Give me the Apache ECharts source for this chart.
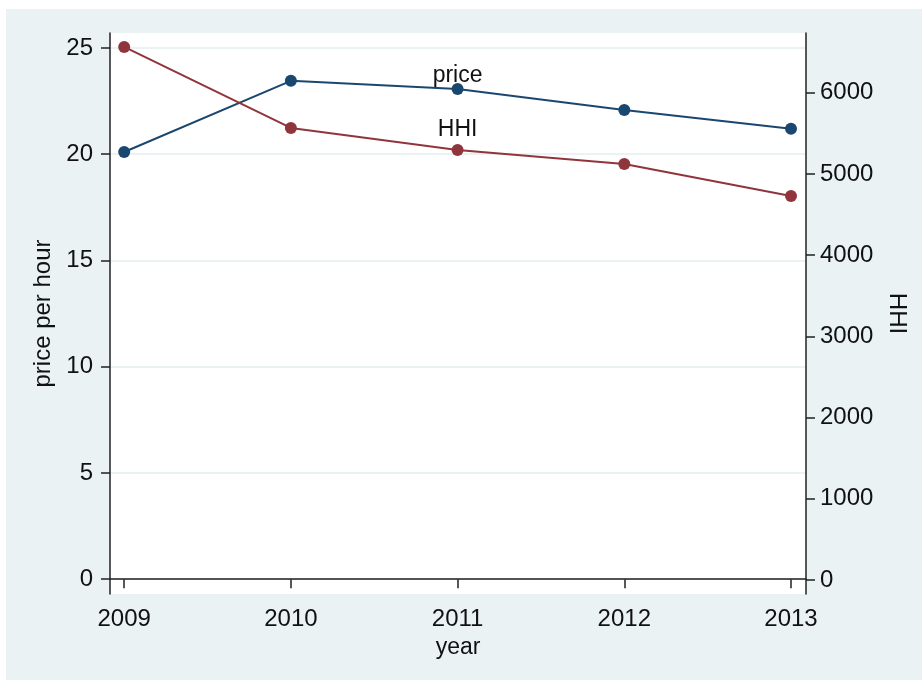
<!DOCTYPE html>
<html>
<head>
<meta charset="utf-8">
<script src="https://cdn.jsdelivr.net/npm/echarts@6/dist/echarts.min.js"></script>
<style>
  html, body { margin: 0; padding: 0; background: #ffffff; }
  #main { width: 922px; height: 680px; }
</style>
</head>
<body>
<div id="main"></div>
<script>
// data
var years = [2009, 2010, 2011, 2012, 2013];
var price = [20.1, 23.45, 23.07, 22.08, 21.19];   // left axis, price per hour
var hhi = [6564, 5567, 5296, 5123, 4729];         // right axis, HHI
var leftTicks = [0, 5, 10, 15, 20, 25];
var rightTicks = [0, 1000, 2000, 3000, 4000, 5000, 6000];

function pairs(xs, ys) {
    return xs.map(function (x, i) { return [x, ys[i]]; });
}
function plain(v) { return String(v); }

var txt = '#111111';
var axisCol = '#222222';
var font = 'Liberation Sans, Arial, sans-serif';

var option = {
    animation: false,
    textStyle: { fontFamily: font },
    graphic: [{
        type: 'rect',
        z: -10,
        shape: { x: 6, y: 9, width: 916, height: 671 },
        style: { fill: '#EAF2F3' }
    }],
    grid: {
        left: 110,
        right: 116,
        top: 33,
        bottom: 86,
        show: true,
        backgroundColor: '#ffffff',
        borderWidth: 0
    },
    xAxis: {
        type: 'value',
        min: 2008.915,
        max: 2013.09,
        name: 'year',
        nameLocation: 'middle',
        nameGap: 40,
        nameTextStyle: { fontSize: 23, color: txt },
        axisLine: { show: true, lineStyle: { color: axisCol, width: 1.5 } },
        axisTick: { show: true, length: 9, lineStyle: { color: axisCol, width: 1.5 }, customValues: years },
        axisLabel: { fontSize: 24, color: txt, margin: 13, customValues: years, formatter: plain },
        splitLine: { show: false }
    },
    yAxis: [
        {
            type: 'value',
            position: 'left',
            min: -0.7,
            max: 25.7,
            name: 'price per hour',
            nameLocation: 'middle',
            nameRotate: 90,
            nameGap: 52,
            nameTextStyle: { fontSize: 24, color: txt },
            axisLine: { show: true, lineStyle: { color: axisCol, width: 1.5 } },
            axisTick: { show: true, length: 9, lineStyle: { color: axisCol, width: 1.5 }, customValues: leftTicks },
            axisLabel: { fontSize: 24, color: txt, margin: 17, customValues: leftTicks, formatter: plain },
            splitLine: { show: true, lineStyle: { color: '#EAF2F3', width: 2 } }
        },
        {
            type: 'value',
            position: 'right',
            min: -172,
            max: 6736,
            name: 'HHI',
            nameLocation: 'middle',
            nameRotate: -90,
            nameGap: 79,
            nameTextStyle: { fontSize: 24, color: txt },
            axisLine: { show: true, lineStyle: { color: axisCol, width: 1.5 } },
            axisTick: { show: true, length: 9, lineStyle: { color: axisCol, width: 1.5 }, customValues: rightTicks },
            axisLabel: { fontSize: 24, color: txt, margin: 14, customValues: rightTicks, formatter: plain },
            splitLine: { show: false }
        }
    ],
    series: [
        {
            name: 'price',
            type: 'line',
            yAxisIndex: 0,
            data: pairs(years, price).map(function (p, i) {
                if (years[i] !== 2011) return p;
                return {
                    value: p,
                    label: { show: true, position: 'top', distance: -4, formatter: 'price', fontSize: 23, color: txt }
                };
            }),
            symbol: 'circle',
            symbolSize: 12,
            lineStyle: { color: '#1a476f', width: 2 },
            itemStyle: { color: '#1a476f' },
            z: 3
        },
        {
            name: 'HHI',
            type: 'line',
            yAxisIndex: 1,
            data: pairs(years, hhi).map(function (p, i) {
                if (years[i] !== 2011) return p;
                return {
                    value: p,
                    label: { show: true, position: 'top', distance: 3, formatter: 'HHI', fontSize: 23, color: txt }
                };
            }),
            symbol: 'circle',
            symbolSize: 12,
            lineStyle: { color: '#90353b', width: 2 },
            itemStyle: { color: '#90353b' },
            z: 3
        }
    ]
};

var myChart = echarts.init(document.getElementById('main'));
myChart.setOption(option);
</script>
</body>
</html>
